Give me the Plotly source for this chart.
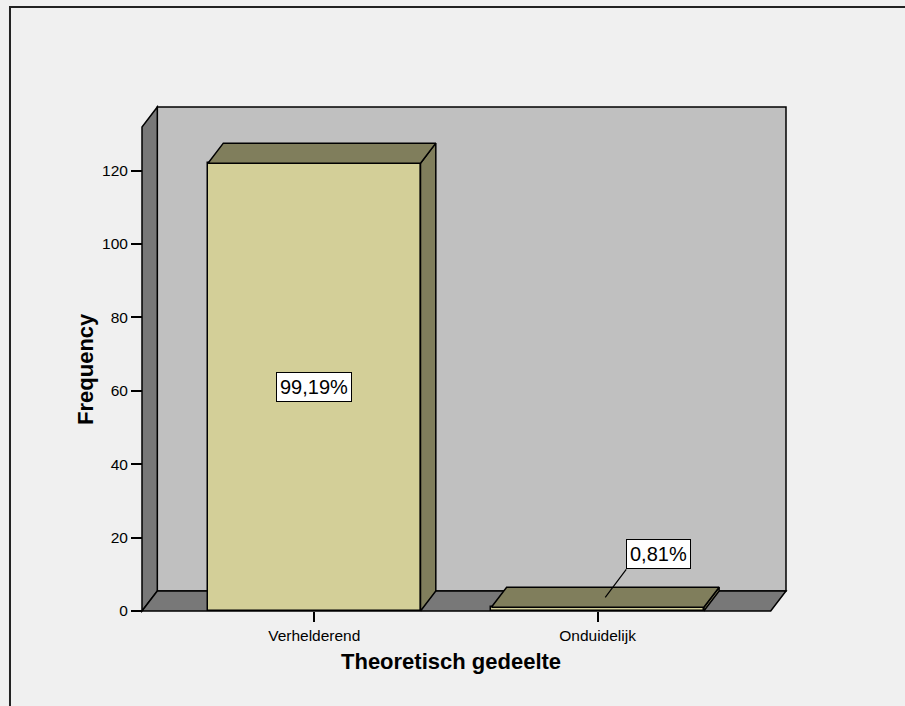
import plotly.graph_objects as go

# ---------------- data ----------------
categories = ["Verhelderend", "Onduidelijk"]
counts = [122, 1]
percent_labels = ["99,19%", "0,81%"]
y_ticks = [0, 20, 40, 60, 80, 100, 120]
x_title = "Theoretisch gedeelte"
y_title = "Frequency"

# ---------------- style / geometry ----------------
W, H = 905, 706
FONT = "Arial, Liberation Sans, Helvetica, sans-serif"
BG = "#f0f0f0"
WALL_BACK = "#c0c0c0"
WALL_SIDE = "#787878"
BAR_FRONT = "#d3cf98"
BAR_DARK = "#807e5c"
LW = 1.5

PX_PER_X = 283.3      # pixels per category unit
PX_PER_Y = 3.667      # pixels per frequency unit
PAD = 4               # px padding around the 3D box
BAR_W = 0.75
DX = 15.3 / PX_PER_X  # depth offset (x units)
DY = 20.0 / PX_PER_Y  # depth offset (y units)

X_FRONT_LEFT = -0.608
X_BACK_RIGHT = 1.665
Y_BACK_TOP = 137.3

xr = [X_FRONT_LEFT - PAD / PX_PER_X, X_BACK_RIGHT + PAD / PX_PER_X]
yr = [0 - PAD / PX_PER_Y, Y_BACK_TOP + PAD / PX_PER_Y]

ML = 142 - PAD
PLOT_W = (xr[1] - xr[0]) * PX_PER_X
PLOT_H = (yr[1] - yr[0]) * PX_PER_Y
MT = 107.3 - PAD
MR = W - ML - PLOT_W
MB = H - MT - PLOT_H


def px_x(px):
    return (px - ML) / PLOT_W


def px_y(py):
    return (H - MB - py) / PLOT_H


def path(pts):
    return "M " + " L ".join(f"{x},{y}" for x, y in pts) + " Z"


shapes = []
# back wall
shapes.append(dict(type="path", xref="x", yref="y", layer="below",
                   path=path([(X_FRONT_LEFT + DX, DY), (X_BACK_RIGHT, DY),
                              (X_BACK_RIGHT, Y_BACK_TOP), (X_FRONT_LEFT + DX, Y_BACK_TOP)]),
                   fillcolor=WALL_BACK, line=dict(color="black", width=LW)))
# left side wall
shapes.append(dict(type="path", xref="x", yref="y", layer="below",
                   path=path([(X_FRONT_LEFT, 0), (X_FRONT_LEFT, Y_BACK_TOP - DY),
                              (X_FRONT_LEFT + DX, Y_BACK_TOP), (X_FRONT_LEFT + DX, DY)]),
                   fillcolor=WALL_SIDE, line=dict(color="black", width=LW)))
# floor
shapes.append(dict(type="path", xref="x", yref="y", layer="below",
                   path=path([(X_FRONT_LEFT, 0), (X_BACK_RIGHT - DX, 0),
                              (X_BACK_RIGHT, DY), (X_FRONT_LEFT + DX, DY)]),
                   fillcolor=WALL_SIDE, line=dict(color="black", width=LW)))
# outer frame
shapes.append(dict(type="rect", xref="paper", yref="paper",
                   x0=px_x(10), x1=px_x(W + 20),
                   y0=px_y(H + 20), y1=px_y(7.5),
                   line=dict(color="#222222", width=2), layer="below"))

fig = go.Figure()

xs = list(range(len(categories)))

# 3D faces (side and top) of bars
for i, v in zip(xs, counts):
    x0 = i - BAR_W / 2
    x1 = i + BAR_W / 2
    # side face
    fig.add_trace(go.Scatter(
        x=[x1, x1, x1 + DX, x1 + DX, x1], y=[0, v, v + DY, DY, 0],
        mode="lines", fill="toself", fillcolor=BAR_DARK,
        line=dict(color="black", width=LW), hoverinfo="skip", showlegend=False))
    # top face
    fig.add_trace(go.Scatter(
        x=[x0, x1, x1 + DX, x0 + DX, x0], y=[v, v, v + DY, v + DY, v],
        mode="lines", fill="toself", fillcolor=BAR_DARK,
        line=dict(color="black", width=LW), hoverinfo="skip", showlegend=False))

# front faces
fig.add_trace(go.Bar(
    x=xs, y=counts, width=BAR_W,
    marker=dict(color=BAR_FRONT, line=dict(color="black", width=LW)),
    hoverinfo="skip", showlegend=False))

annotations = []
# percent labels
annotations.append(dict(
    x=xs[0], y=counts[0] / 2, xref="x", yref="y", text=percent_labels[0],
    showarrow=False, font=dict(family=FONT, size=20, color="black"),
    bgcolor="white", bordercolor="black", borderwidth=1, borderpad=3))
annotations.append(dict(
    x=xs[1] + DX / 2, y=counts[1] + DY / 2, xref="x", yref="y", text=percent_labels[1],
    showarrow=True, arrowhead=0, arrowwidth=1.2, arrowcolor="black",
    ax=21, ay=-28, xanchor="left", yanchor="bottom", standoff=0,
    font=dict(family=FONT, size=20, color="black"),
    bgcolor="white", bordercolor="black", borderwidth=1, borderpad=3))
# axis titles
annotations.append(dict(
    x=px_x(451), y=px_y(661), xref="paper", yref="paper",
    text=f"<b>{x_title}</b>", showarrow=False, xanchor="center", yanchor="middle",
    font=dict(family=FONT, size=22, color="black")))
annotations.append(dict(
    x=px_x(86), y=px_y(369), xref="paper", yref="paper",
    text=f"<b>{y_title}</b>", showarrow=False, textangle=-90,
    xanchor="center", yanchor="middle",
    font=dict(family=FONT, size=22, color="black")))

fig.update_layout(
    width=W, height=H, autosize=False,
    margin=dict(l=ML, r=MR, t=MT, b=MB, pad=0),
    paper_bgcolor=BG, plot_bgcolor=BG,
    shapes=shapes, annotations=annotations,
    font=dict(family=FONT, size=15.5, color="black"),
    xaxis=dict(range=xr, tickvals=xs, ticktext=categories, showgrid=False, zeroline=False,
               showline=False, ticks="outside", ticklen=10, tickwidth=1.5, tickcolor="black",
               anchor="free", position=(0 - yr[0]) / (yr[1] - yr[0]),
               tickfont=dict(family=FONT, size=15.5, color="black"), fixedrange=True),
    yaxis=dict(range=yr, tickvals=y_ticks, showgrid=False, zeroline=False,
               showline=False, ticks="outside", ticklen=11, tickwidth=2, tickcolor="black",
               anchor="free", position=(X_FRONT_LEFT - xr[0]) / (xr[1] - xr[0]),
               tickfont=dict(family=FONT, size=15.5, color="black"), fixedrange=True),
    bargap=0,
)

fig.write_html(
    "out.html",
    config={"displayModeBar": False},
    post_script="document.body.style.margin='0';document.body.style.overflow='hidden';"
                "document.body.style.background='%s';" % BG,
)
